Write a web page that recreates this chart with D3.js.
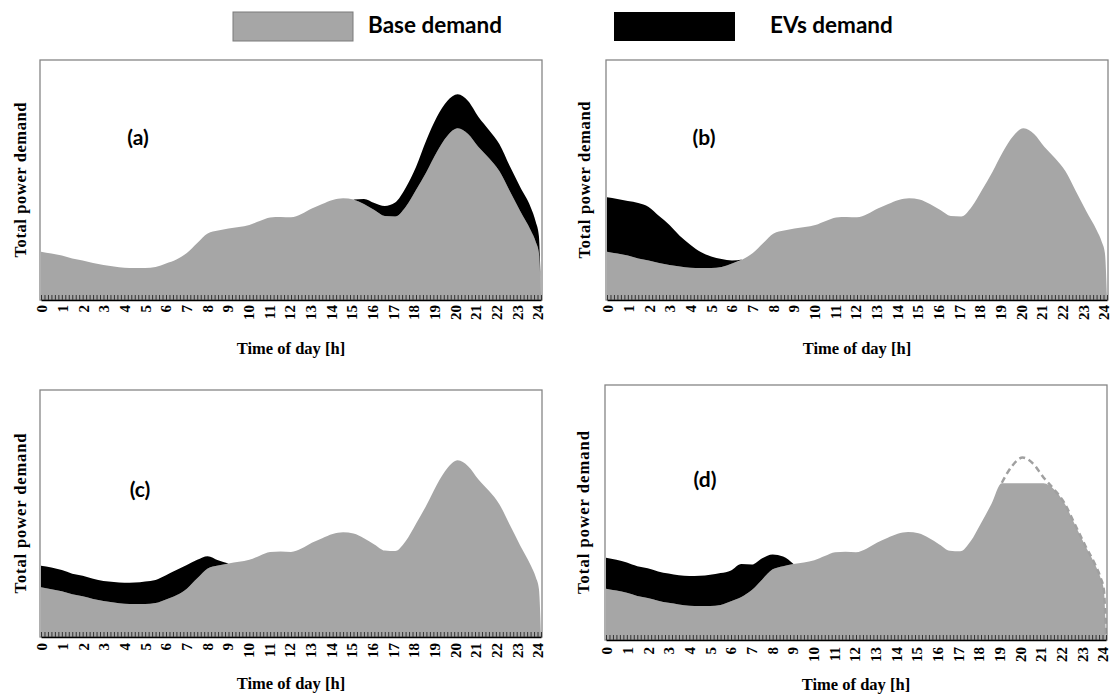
<!DOCTYPE html>
<html>
<head>
<meta charset="utf-8">
<script src="https://cdn.jsdelivr.net/npm/d3@7"></script>
<style>
  body { margin: 0; background: #fff; }
  svg { display: block; }
</style>
</head>
<body>
<script>
// Hours where the demand curves are sampled
var hours = [0, 0.5, 1, 1.5, 2, 2.5, 3, 3.5, 4, 4.5, 5, 5.5, 6, 6.5, 7, 7.5, 8, 8.5, 9, 9.5,
  10, 10.5, 11, 11.5, 12, 12.5, 13, 13.5, 14, 14.5, 15, 15.5, 16, 16.5, 17, 17.5, 18, 18.5,
  19, 19.5, 20, 20.5, 21, 21.5, 22, 22.5, 23, 23.5, 23.75, 23.9, 24];

// Base demand (arbitrary units, same curve in all four panels)
var baseDemand = [48.3, 46.5, 44.5, 41.5, 39.5, 37, 35, 33.5, 32.3, 32, 32, 33, 36.5, 40.5, 47, 57,
  66.5, 69.5, 71.5, 73, 75, 79, 82.5, 83, 82.7, 86, 91.5, 96, 100, 101.7, 100.5, 96, 90, 84,
  83.5, 93, 110, 128, 148, 164, 171.7, 166, 153, 142, 129, 109, 89, 70, 58, 46.7, 2];

// EV demand stacked on top of the base (null = no EV charging)
var evA = [null, null, null, null, null, null, null, null, null, null, null, null, null, null, null,
  null, null, null, null, null, null, null, null, null, null, null, null, null, null, null,
  0, 5, 7, 10, 14, 19, 23, 32, 35, 35, 34, 33, 30, 28, 27, 25, 24, 23, 20, 17, 2];
var evB = [54.4, 54.5, 54.5, 55.5, 53.5, 47, 40, 30.5, 23, 16, 11.5, 8, 3, 0];
var evC = [21, 21, 20.5, 20, 20, 19.5, 19.5, 20, 20.5, 21, 22, 22.5, 23.5, 24.5, 23, 18, 12, 5, 0];
var evD = [29, 29, 28.5, 28, 28, 27.5, 27.5, 27.5, 28, 28.5, 29.5, 30, 29, 31, 24, 20, 14, 9, 0];

// Peak shaving level of the base demand in panel (d)
var peakCapD = 147.5;

var hourLabels = d3.range(0, 25);
var legendNames = ["Base demand", "EVs demand"];

var baseColor = "#a6a6a6";
var evColor = "#000000";

var svgWidth = 1112;
var svgHeight = 695;

var serif = "'Liberation Serif', 'Times New Roman', serif";
var sans = "Lato, 'Open Sans', sans-serif";

var svg = d3.select("body")
  .append("svg")
  .attr("width", svgWidth)
  .attr("height", svgHeight);

// Legend
var legend = svg.append("g");
legend.append("rect")
  .attr("x", 233).attr("y", 12).attr("width", 120).attr("height", 29)
  .attr("fill", baseColor).attr("stroke", "#7a7a7a").attr("stroke-width", 1);
legend.append("text")
  .attr("x", 368).attr("y", 33)
  .style("font-family", sans)
  .style("font-weight", "bold").style("font-size", "22.5px")
  .text(legendNames[0]);
legend.append("rect")
  .attr("x", 614).attr("y", 12).attr("width", 121).attr("height", 29)
  .attr("fill", evColor);
legend.append("text")
  .attr("x", 770).attr("y", 33)
  .style("font-family", sans)
  .style("font-weight", "bold").style("font-size", "22.5px")
  .text(legendNames[1]);

// Panel layout
var panels = [
  { tag: "(a)", ev: evA, left: 40, right: 542, top: 60, bottom: 300,
    tagX: 138, tagY: 145, yTitleX: 20, yTitleLen: 155, labelTop: 305, xTitleY: 354 },
  { tag: "(b)", ev: evB, left: 606, right: 1108, top: 60, bottom: 300,
    tagX: 704, tagY: 145, yTitleX: 584, yTitleLen: 157, labelTop: 305, xTitleY: 354 },
  { tag: "(c)", ev: evC, left: 40, right: 542, top: 390, bottom: 637,
    tagX: 140, tagY: 497, yTitleX: 20, yTitleLen: 160, labelTop: 643, xTitleY: 689 },
  { tag: "(d)", ev: evD, left: 605, right: 1107, top: 385, bottom: 640,
    tagX: 705, tagY: 487, yTitleX: 583, yTitleLen: 163, labelTop: 647, xTitleY: 690, cap: peakCapD }
];

panels.forEach(function(p) {
  var x = d3.scaleLinear().domain([0, 24]).range([p.left + 1, p.right - 1]);
  var y = d3.scaleLinear().domain([0, 240]).range([p.bottom, p.top]);
  // label positions sit a little inside the frame ends
  var xLab = d3.scaleLinear().domain([0, 24]).range([p.left + 2, p.right - 4]);

  var rows = hours.map(function(h, i) {
    var b = baseDemand[i];
    return {
      h: h,
      base: b,
      shown: p.cap ? Math.min(b, p.cap) : b,
      ev: (p.ev[i] === undefined) ? null : p.ev[i]
    };
  });

  var g = svg.append("g");

  // base demand area
  var baseArea = d3.area()
    .curve(d3.curveMonotoneX)
    .x(d => x(d.h))
    .y0(y(0))
    .y1(d => y(d.shown));
  g.append("path")
    .datum(rows)
    .attr("d", baseArea)
    .attr("fill", baseColor);

  // original peak drawn dashed where the base was shaved
  if (p.cap) {
    var dashed = d3.line()
      .curve(d3.curveMonotoneX)
      .x(d => x(d.h))
      .y(d => y(d.base));
    g.append("path")
      .datum(rows.filter(d => d.h >= 19))
      .attr("d", dashed)
      .attr("fill", "none")
      .attr("stroke", "#a0a0a0")
      .attr("stroke-width", 2.5)
      .attr("stroke-dasharray", "6,4");
  }

  // EV demand band stacked on the base
  var evArea = d3.area()
    .curve(d3.curveMonotoneX)
    .defined(d => d.ev !== null)
    .x(d => x(d.h))
    .y0(d => y(d.shown))
    .y1(d => y(d.shown + d.ev));
  g.append("path")
    .datum(rows)
    .attr("d", evArea)
    .attr("fill", evColor);

  // frame
  g.append("rect")
    .attr("x", p.left).attr("y", p.top)
    .attr("width", p.right - p.left).attr("height", p.bottom - p.top)
    .attr("fill", "none").attr("stroke", "#868686").attr("stroke-width", 1.3);

  // minor ticks every 10 minutes, pointing up into the plot
  var minorAxis = d3.axisBottom(x)
    .tickValues(d3.range(0, 24 + 1e-6, 1 / 6))
    .tickSizeInner(-5)
    .tickSizeOuter(0)
    .tickFormat("");
  var axisG = g.append("g")
    .attr("transform", `translate(0, ${p.bottom})`)
    .call(minorAxis);
  axisG.selectAll(".tick line").attr("stroke", "#333").attr("stroke-width", 1);
  axisG.select(".domain").attr("stroke", "#000").attr("stroke-width", 1.5);

  // hour labels, rotated
  g.selectAll("text.hour")
    .data(hourLabels)
    .enter()
    .append("text")
    .attr("class", "hour")
    .attr("transform", d => `translate(${xLab(d)}, ${p.labelTop}) rotate(-90)`)
    .attr("text-anchor", "end")
    .attr("dy", "0.35em")
    .style("font-family", serif)
    .style("font-weight", "bold")
    .style("font-size", "15px")
    .text(d => d);

  // axis titles
  g.append("text")
    .attr("x", (p.left + p.right) / 2)
    .attr("y", p.xTitleY)
    .attr("text-anchor", "middle")
    .style("font-family", serif)
    .style("font-weight", "bold")
    .style("font-size", "16.5px")
    .text("Time of day [h]");

  g.append("text")
    .attr("transform", `translate(${p.yTitleX}, ${(p.top + p.bottom) / 2}) rotate(-90)`)
    .attr("text-anchor", "middle")
    .attr("dy", "0.35em")
    .attr("textLength", p.yTitleLen)
    .attr("lengthAdjust", "spacing")
    .style("font-family", serif)
    .style("font-weight", "bold")
    .style("font-size", "16.5px")
    .text("Total power demand");

  // panel tag
  g.append("text")
    .attr("x", p.tagX)
    .attr("y", p.tagY)
    .attr("text-anchor", "middle")
    .style("font-family", sans)
    .style("font-weight", "bold")
    .style("font-size", "21px")
    .text(p.tag);
});
</script>
</body>
</html>
